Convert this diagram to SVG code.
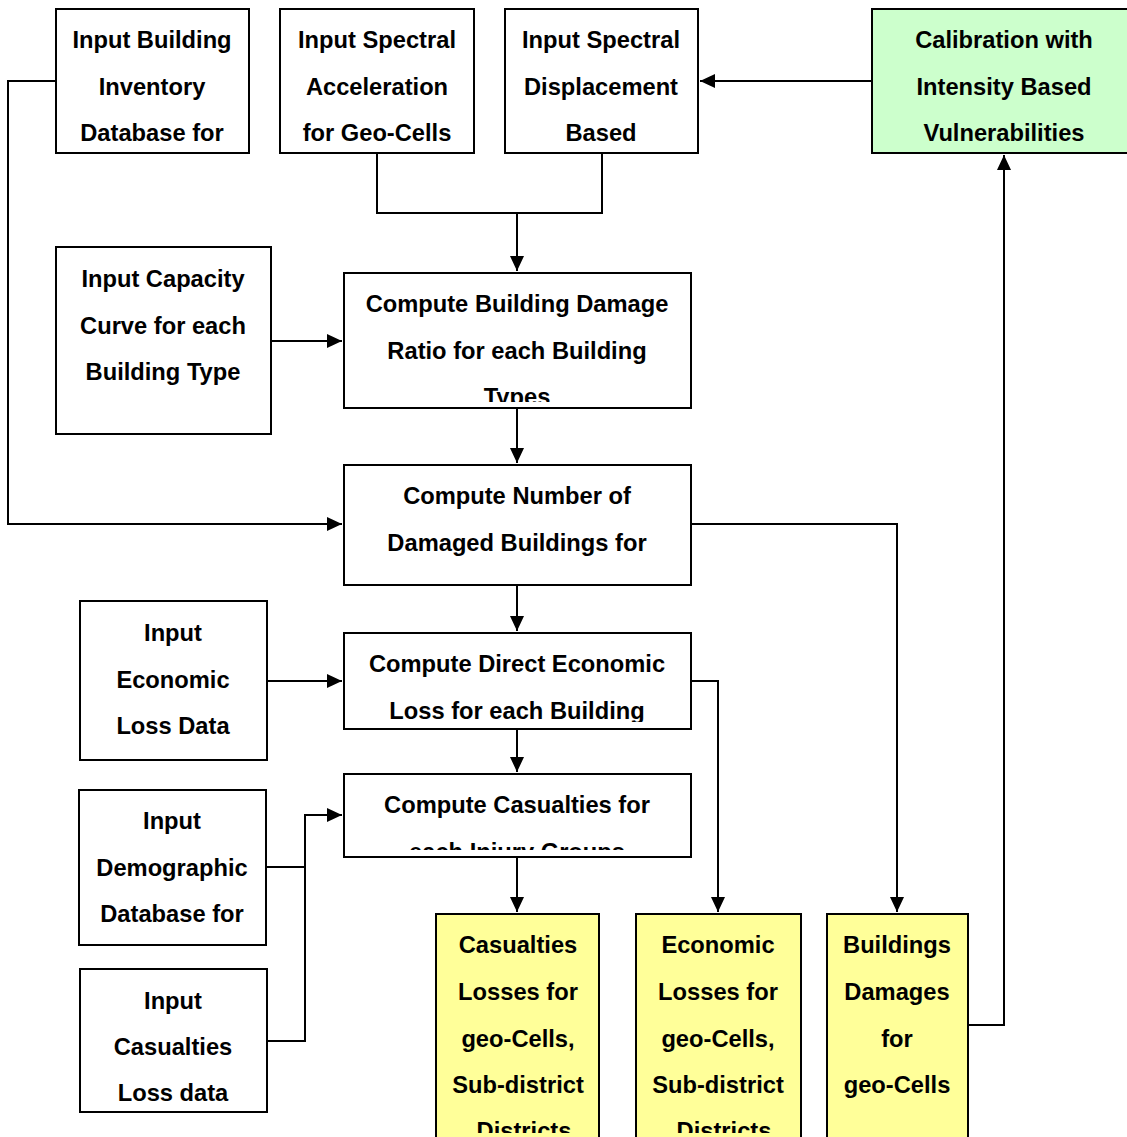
<svg xmlns="http://www.w3.org/2000/svg" width="1127" height="1137" viewBox="0 0 1127 1137">
<style>
.box{fill:#fff;stroke:#000;stroke-width:2}
.green{fill:#ccffcc;stroke:#000;stroke-width:2}
.yellow{fill:#ffff99;stroke:#000;stroke-width:2}
text{font-family:"Liberation Sans",Arial,Helvetica,sans-serif;font-weight:bold;font-size:23.7px;fill:#000;text-anchor:middle}
.c{fill:none;stroke:#000;stroke-width:2}
</style>
<defs>
<marker id="ah" markerUnits="userSpaceOnUse" markerWidth="16" markerHeight="14" refX="15" refY="7" orient="auto">
<path d="M0,0 L15,7 L0,14 z" fill="#000"/>
</marker>
<clipPath id="cp6"><rect x="344" y="273" width="347" height="129"/></clipPath>
<clipPath id="cp9"><rect x="344" y="633" width="347" height="89"/></clipPath>
<clipPath id="cp11"><rect x="344" y="774" width="347" height="76"/></clipPath>
<clipPath id="cp13"><rect x="436" y="914" width="163" height="219"/></clipPath>
<clipPath id="cp14"><rect x="636" y="914" width="165" height="219"/></clipPath>
</defs>
<rect width="1127" height="1137" fill="#fff"/>
<g id="connectors">
<polyline class="c" points="56,81 8,81 8,524 342,524" marker-end="url(#ah)"/>
<polyline class="c" points="377,153 377,213 602,213 602,153"/>
<line class="c" x1="517" y1="213" x2="517" y2="271" marker-end="url(#ah)"/>
<line class="c" x1="872" y1="81" x2="700" y2="81" marker-end="url(#ah)"/>
<line class="c" x1="271" y1="341" x2="342" y2="341" marker-end="url(#ah)"/>
<line class="c" x1="517" y1="408" x2="517" y2="463" marker-end="url(#ah)"/>
<line class="c" x1="517" y1="585" x2="517" y2="631" marker-end="url(#ah)"/>
<polyline class="c" points="691,524 897,524 897,912" marker-end="url(#ah)"/>
<line class="c" x1="267" y1="681" x2="342" y2="681" marker-end="url(#ah)"/>
<line class="c" x1="517" y1="729" x2="517" y2="772" marker-end="url(#ah)"/>
<polyline class="c" points="691,681 718,681 718,912" marker-end="url(#ah)"/>
<polyline class="c" points="266,867 305,867"/>
<polyline class="c" points="267,1041 305,1041 305,815 342,815" marker-end="url(#ah)"/>
<line class="c" x1="517" y1="857" x2="517" y2="912" marker-end="url(#ah)"/>
<polyline class="c" points="968,1025 1004,1025 1004,155" marker-end="url(#ah)"/>
</g>
<g id="n1"><rect class="box" x="56" y="9" width="193" height="144"/>
<text x="152" y="48">Input Building</text><text x="152" y="95">Inventory</text><text x="152" y="141">Database for</text></g>
<g id="n2"><rect class="box" x="280" y="9" width="194" height="144"/>
<text x="377" y="48">Input Spectral</text><text x="377" y="95">Acceleration</text><text x="377" y="141">for Geo-Cells</text></g>
<g id="n3"><rect class="box" x="505" y="9" width="193" height="144"/>
<text x="601" y="48">Input Spectral</text><text x="601" y="95">Displacement</text><text x="601" y="141">Based</text></g>
<g id="n4"><rect class="green" x="872" y="9" width="258" height="144"/>
<text x="1004" y="48">Calibration with</text><text x="1004" y="95">Intensity Based</text><text x="1004" y="141">Vulnerabilities</text></g>
<g id="n5"><rect class="box" x="56" y="247" width="215" height="187"/>
<text x="163" y="287">Input Capacity</text><text x="163" y="334">Curve for each</text><text x="163" y="380">Building Type</text></g>
<g id="n6"><rect class="box" x="344" y="273" width="347" height="135"/>
<g clip-path="url(#cp6)"><text x="517" y="312">Compute Building Damage</text><text x="517" y="359">Ratio for each Building</text><text x="517" y="405">Types</text></g></g>
<g id="n7"><rect class="box" x="344" y="465" width="347" height="120"/>
<text x="517" y="504">Compute Number of</text><text x="517" y="551">Damaged Buildings for</text></g>
<g id="n8"><rect class="box" x="80" y="601" width="187" height="159"/>
<text x="173" y="641">Input</text><text x="173" y="688">Economic</text><text x="173" y="734">Loss Data</text></g>
<g id="n9"><rect class="box" x="344" y="633" width="347" height="96"/>
<g clip-path="url(#cp9)"><text x="517" y="672">Compute Direct Economic</text><text x="517" y="719">Loss for each Building</text></g></g>
<g id="n10"><rect class="box" x="79" y="790" width="187" height="155"/>
<text x="172" y="829">Input</text><text x="172" y="876">Demographic</text><text x="172" y="922">Database for</text></g>
<g id="n11"><rect class="box" x="344" y="774" width="347" height="83"/>
<g clip-path="url(#cp11)"><text x="517" y="813">Compute Casualties for</text><text x="517" y="860">each Injury Groups</text></g></g>
<g id="n12"><rect class="box" x="80" y="969" width="187" height="143"/>
<text x="173" y="1009">Input</text><text x="173" y="1055">Casualties</text><text x="173" y="1101">Loss data</text></g>
<g id="n13"><rect class="yellow" x="436" y="914" width="163" height="230"/>
<g clip-path="url(#cp13)"><text x="518" y="953">Casualties</text><text x="518" y="1000">Losses for</text><text x="518" y="1047">geo-Cells,</text><text x="518" y="1093">Sub-district</text><text x="524" y="1139">Districts</text></g></g>
<g id="n14"><rect class="yellow" x="636" y="914" width="165" height="230"/>
<g clip-path="url(#cp14)"><text x="718" y="953">Economic</text><text x="718" y="1000">Losses for</text><text x="718" y="1047">geo-Cells,</text><text x="718" y="1093">Sub-district</text><text x="724" y="1139">Districts</text></g></g>
<g id="n15"><rect class="yellow" x="827" y="914" width="141" height="230"/>
<text x="897" y="953">Buildings</text><text x="897" y="1000">Damages</text><text x="897" y="1047">for</text><text x="897" y="1093">geo-Cells</text></g>
</svg>
